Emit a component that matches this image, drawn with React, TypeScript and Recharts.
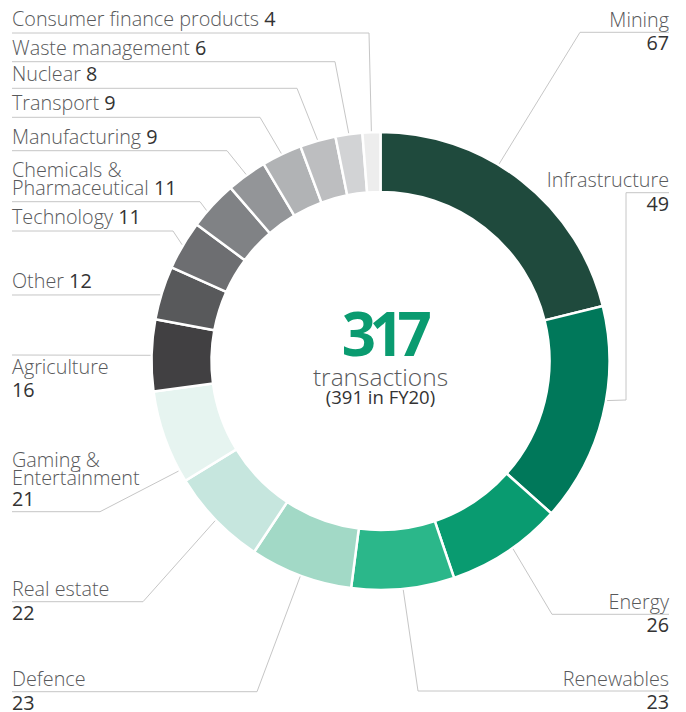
import React from 'react';
import { PieChart, Pie, Cell } from 'recharts';

// ---------- data ----------
const categories = [
  'Mining',
  'Infrastructure',
  'Energy',
  'Renewables',
  'Defence',
  'Real estate',
  'Gaming & Entertainment',
  'Agriculture',
  'Other',
  'Technology',
  'Chemicals & Pharmaceutical',
  'Manufacturing',
  'Transport',
  'Nuclear',
  'Waste management',
  'Consumer finance products',
];
const transactions = [67, 49, 26, 23, 23, 22, 21, 16, 12, 11, 11, 9, 9, 8, 6, 4];
const sliceColors = [
  '#1f4a3d',
  '#00785a',
  '#099b70',
  '#2bb78a',
  '#a2d9c6',
  '#c6e6de',
  '#e6f4f0',
  '#414042',
  '#58595b',
  '#6d6e71',
  '#808285',
  '#939598',
  '#b1b3b5',
  '#bdbec0',
  '#d2d3d5',
  '#ededed',
];
const centerCaption = 'transactions';
const priorYearNote = '(391 in FY20)';

// ---------- layout ----------
const W = 686;
const H = 712;
const CX = 380.5;
const CY = 361;
const LEFT_X = 12;
const RIGHT_X = 669;
const LINE_R = 230;
const FONT = '"Open Sans", "Noto Sans", sans-serif';
const NAME_COLOR = '#58595b';
const VALUE_COLOR = '#333333';
const LINE_COLOR = '#c6c6c6';
const FS = 19.8;

type Mode = 'inline' | 'stack' | 'under' | 'above';
type LabelLayout = {
  side: 'left' | 'right';
  lineY: number;
  via: [number, number][];
  mode: Mode;
  nudge?: number;
};

const labelLayout: Record<string, LabelLayout> = {
  Mining: { side: 'right', lineY: 32.3, via: [[580, 32.3]], mode: 'stack', nudge: -7 },
  Infrastructure: { side: 'right', lineY: 192.7, via: [[626, 400], [626, 192.7]], mode: 'stack', nudge: -4 },
  Energy: { side: 'right', lineY: 614.3, via: [[552, 614.3]], mode: 'stack', nudge: -1.7 },
  Renewables: { side: 'right', lineY: 691, via: [[418, 691]], mode: 'stack' },
  Defence: { side: 'left', lineY: 691.7, via: [[257, 691.7]], mode: 'stack' },
  'Real estate': { side: 'left', lineY: 601.7, via: [[143, 601.7]], mode: 'stack' },
  'Gaming & Entertainment': { side: 'left', lineY: 511.7, via: [[100, 511.7]], mode: 'above', nudge: -9 },
  Agriculture: { side: 'left', lineY: 355, via: [], mode: 'under' },
  Other: { side: 'left', lineY: 295, via: [], mode: 'inline', nudge: -0.6 },
  Technology: { side: 'left', lineY: 231, via: [[173, 231]], mode: 'inline' },
  'Chemicals & Pharmaceutical': { side: 'left', lineY: 201.7, via: [[200, 201.7]], mode: 'inline', nudge: -2 },
  Manufacturing: { side: 'left', lineY: 150.7, via: [[227, 150.7]], mode: 'inline' },
  Transport: { side: 'left', lineY: 117.3, via: [[260, 117.3]], mode: 'inline' },
  Nuclear: { side: 'left', lineY: 88.3, via: [[297, 88.3]], mode: 'inline' },
  'Waste management': { side: 'left', lineY: 61.7, via: [[335, 61.7]], mode: 'inline' },
  'Consumer finance products': { side: 'left', lineY: 33, via: [[369, 33]], mode: 'inline' },
};

const pieData = categories.map((name, i) => ({ name, value: transactions[i] }));
const total = transactions.reduce((a, b) => a + b, 0);

const RAD = Math.PI / 180;

function splitName(name: string): string[] {
  const idx = name.indexOf('& ');
  if (idx >= 0) return [name.slice(0, idx + 1), name.slice(idx + 2)];
  return [name];
}

const renderLabel = (props: any) => {
  const { cx, cy, midAngle, index } = props;
  const name = categories[index];
  const value = transactions[index];
  const lay = labelLayout[name];
  if (!lay) return null;
  const a = (midAngle - (lay.nudge || 0)) * RAD;
  const ox = cx + LINE_R * Math.cos(a);
  const oy = cy - LINE_R * Math.sin(a);
  const endX = lay.side === 'left' ? LEFT_X : RIGHT_X;
  const pts: [number, number][] = [[ox, oy], ...lay.via, [endX, lay.lineY]];
  const d = pts.map((p, i) => `${i === 0 ? 'M' : 'L'}${p[0]},${p[1]}`).join(' ');
  const anchor = lay.side === 'left' ? 'start' : 'end';
  const x = endX;
  const names = lay.mode === 'inline' || lay.mode === 'above' ? splitName(name) : [name];
  const texts: React.ReactNode[] = [];
  const nameEl = (t: string, y: number, k: string, withValue: boolean) => (
    <text key={k} x={x} y={y} textAnchor={anchor} fontFamily={FONT} fontSize={FS}>
      <tspan fill={NAME_COLOR} fontWeight={300}>{t}</tspan>
      {withValue ? (
        <tspan fill={VALUE_COLOR} fontWeight={500}>{' ' + value}</tspan>
      ) : null}
    </text>
  );
  const valueEl = (y: number) => (
    <text key="v" x={x} y={y} textAnchor={anchor} fontFamily={FONT} fontSize={FS} fill={VALUE_COLOR} fontWeight={500}>
      {value}
    </text>
  );
  const L = lay.lineY;
  if (lay.mode === 'inline') {
    const n = names.length;
    names.forEach((t, i) => {
      texts.push(nameEl(t, L - 7 - (n - 1 - i) * 18, 'n' + i, i === n - 1));
    });
  } else if (lay.mode === 'stack') {
    texts.push(nameEl(name, L - 5.5, 'n', false));
    texts.push(valueEl(L + 18));
  } else if (lay.mode === 'under') {
    texts.push(nameEl(name, L + 19, 'n', false));
    texts.push(valueEl(L + 42));
  } else {
    const n = names.length;
    names.forEach((t, i) => {
      texts.push(nameEl(t, L - 27 - (n - 1 - i) * 18, 'n' + i, false));
    });
    texts.push(valueEl(L - 6));
  }
  return (
    <g key={'lbl' + index}>
      <path d={d} fill="none" stroke={LINE_COLOR} strokeWidth={1} />
      {texts}
    </g>
  );
};

export default function App() {
  return (
    <div style={{ position: 'absolute', left: 0, top: 0, width: W, height: H, background: '#fff' }}>
      <PieChart width={W} height={H} margin={{ top: 0, right: 0, bottom: 0, left: 0 }}>
        <Pie
          data={pieData}
          dataKey="value"
          nameKey="name"
          cx={CX}
          cy={CY}
          innerRadius={169}
          outerRadius={229}
          startAngle={90}
          endAngle={-270}
          stroke="#ffffff"
          strokeWidth={2.5}
          label={renderLabel}
          labelLine={false}
          isAnimationActive={false}
        >
          {pieData.map((d, i) => (
            <Cell key={d.name} fill={sliceColors[i]} />
          ))}
        </Pie>
        <text x={CX + 3} y={356} textAnchor="middle" fontFamily={FONT} fontSize={60} fontWeight={700} fill="#0a9b70" letterSpacing={-6.5}>
          {total}
        </text>
        <text x={CX} y={386} textAnchor="middle" fontFamily={FONT} fontSize={24.5} fontWeight={300} fill={NAME_COLOR}>
          {centerCaption}
        </text>
        <text x={CX} y={404} textAnchor="middle" fontFamily={FONT} fontSize={18.5} fontWeight={500} fill={VALUE_COLOR}>
          {priorYearNote}
        </text>
      </PieChart>
    </div>
  );
}
